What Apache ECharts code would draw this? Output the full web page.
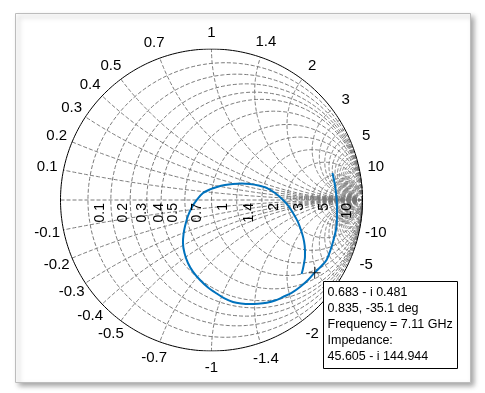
<!DOCTYPE html>
<html><head><meta charset="utf-8">
<script src="https://cdn.jsdelivr.net/npm/echarts@6/dist/echarts.min.js"></script>
<style>html,body{margin:0;padding:0;background:#fff}#c{width:485px;height:393px}</style>
</head><body><div id="c"></div>
<script>
// Smith chart grid values (normalized impedance)
const gridValues = [0.1, 0.2, 0.3, 0.4, 0.5, 0.7, 1, 1.4, 2, 3, 5, 10];
const gridLabels = ['0.1', '0.2', '0.3', '0.4', '0.5', '0.7', '1', '1.4', '2', '3', '5', '10'];
const fineReactance = [3.5, 4, 4.5, 5.5, 6, 6.5, 7, 7.5, 8, 8.5, 9, 9.5, 11, 12, 13, 15, 17, 20, 25, 30];
const fineResistance = [6, 7, 8, 9, 12, 15, 20, 30];
const hatchResistance = [3.2, 3.4, 3.6, 3.8, 4, 4.2, 4.4, 4.6, 4.8, 5.2, 5.4, 5.6, 5.8, 6, 6.5, 7, 7.5, 8, 8.5, 9, 9.5, 11, 12, 13, 14, 16, 18, 20, 25, 30, 40];

// Reflection coefficient trace
const gammaRe = [0.801, 0.815, 0.825, 0.831, 0.831, 0.825, 0.808, 0.788, 0.762, 0.725, 0.683, 0.639, 0.586, 0.533, 0.474, 0.421, 0.366, 0.308, 0.255, 0.195, 0.142, 0.086, 0.034, -0.023, -0.076, -0.123, -0.156, -0.179, -0.189, -0.185, -0.175, -0.156, -0.129, -0.096, -0.056, -0.010, 0.036, 0.089, 0.142, 0.199, 0.255, 0.311, 0.368, 0.421, 0.474, 0.510, 0.540, 0.573, 0.599, 0.613, 0.619, 0.619, 0.613, 0.606, 0.597];
const gammaIm = [0.179, 0.113, 0.046, -0.033, -0.113, -0.192, -0.265, -0.331, -0.397, -0.440, -0.481, -0.530, -0.576, -0.613, -0.642, -0.666, -0.680, -0.687, -0.689, -0.685, -0.675, -0.652, -0.619, -0.579, -0.530, -0.474, -0.417, -0.351, -0.285, -0.225, -0.172, -0.106, -0.046, 0.003, 0.046, 0.070, 0.086, 0.099, 0.106, 0.109, 0.106, 0.096, 0.079, 0.046, 0.000, -0.040, -0.086, -0.146, -0.219, -0.275, -0.331, -0.377, -0.417, -0.454, -0.490];

const markerRe = [0.683];
const markerIm = [-0.481];
const tipLines = ['0.683 - i 0.481', '0.835, -35.1 deg', 'Frequency = 7.11 GHz', 'Impedance:', '45.605 - i 144.944'];

// ---- geometry helpers (Smith chart math) ----
function resistanceCircle(r) {
  const c = r / (1 + r), rad = 1 / (1 + r), pts = [];
  for (let i = 0; i <= 240; i++) {
    const t = i / 240 * 2 * Math.PI;
    pts.push([c + rad * Math.cos(t), rad * Math.sin(t)]);
  }
  return pts;
}
function reactanceArc(x) {
  const s = x < 0 ? -1 : 1, ax = Math.abs(x);
  const rad = 1 / ax;
  const a0 = -Math.PI / 2;
  let a1 = Math.atan2(ax * ax - 1, -2 * ax);
  if (a1 > 0) a1 -= 2 * Math.PI;
  const pts = [];
  const n = 160;
  for (let i = 0; i <= n; i++) {
    const a = a0 + (a1 - a0) * i / n;
    pts.push([1 + rad * Math.cos(a), s * (1 / ax + rad * Math.sin(a))]);
  }
  return pts;
}
function hatchArc(r) {
  const c = r / (1 + r), rad = 1 / (1 + r), pts = [];
  for (let i = 0; i <= 6; i++) {
    const t = 0.035 * i / 6;
    pts.push([c - Math.sqrt(rad * rad - t * t), t]);
  }
  return pts;
}

const gridLines = [];
gridLines.push({ coords: [[-1, 0], [1, 0]] });
gridValues.forEach(v => {
  gridLines.push({ coords: resistanceCircle(v) });
  gridLines.push({ coords: reactanceArc(v) });
  gridLines.push({ coords: reactanceArc(-v) });
});
fineReactance.forEach(v => {
  gridLines.push({ coords: reactanceArc(v) });
  gridLines.push({ coords: reactanceArc(-v) });
});
fineResistance.forEach(v => gridLines.push({ coords: resistanceCircle(v) }));
hatchResistance.forEach(v => gridLines.push({ coords: hatchArc(v) }));

const unitCircle = [];
for (let i = 0; i <= 360; i++) {
  const t = i / 360 * 2 * Math.PI;
  unitCircle.push([Math.cos(t), Math.sin(t)]);
}

// label positions
const outerLabelData = [], outerLabelText = [];
const rho = 1.11;
gridValues.forEach((v, i) => {
  const th = Math.atan2(2 * v, v * v - 1);
  outerLabelData.push([rho * Math.cos(th), rho * Math.sin(th)]);
  outerLabelText.push(gridLabels[i]);
  outerLabelData.push([rho * Math.cos(th), -rho * Math.sin(th)]);
  outerLabelText.push('-' + gridLabels[i]);
});
const innerLabelData = gridValues.map(v => [(v - 1) / (v + 1), 0]);

const curve = gammaRe.map((v, i) => [v, gammaIm[i]]);
const marker = markerRe.map((v, i) => [v, markerIm[i]]);

const chart = echarts.init(document.getElementById('c'), null, { renderer: 'canvas' });
const FONT = '"Liberation Sans", Arial, sans-serif';
chart.setOption({
  backgroundColor: '#ffffff',
  animation: false,
  grid: { left: 60.5, top: 49, width: 302, height: 302 },
  xAxis: { type: 'value', min: -1, max: 1, show: false },
  yAxis: { type: 'value', min: -1, max: 1, show: false },
  graphic: [
    { type: 'rect', z: -10, shape: { x: 15.5, y: 13.5, width: 455, height: 369 },
      style: { fill: '#ffffff', stroke: '#bcbcbc', lineWidth: 1,
        shadowBlur: 5, shadowOffsetX: 3, shadowOffsetY: 3, shadowColor: 'rgba(0,0,0,0.35)' } },
    { type: 'rect', z: 100, zlevel: 1, shape: { x: 323.5, y: 281.5, width: 134, height: 87 },
      style: { fill: '#ffffff', stroke: '#000000', lineWidth: 1 } },
    ...tipLines.map((t, i) => ({ type: 'text', z: 101, zlevel: 1, x: 327.5, y: 292.5 + i * 16,
      style: { text: t, fill: '#000', font: '12.5px ' + FONT, verticalAlign: 'middle', align: 'left' } }))
  ],
  series: [
    { type: 'lines', coordinateSystem: 'cartesian2d', polyline: true, silent: true, z: 1,
      lineStyle: { color: '#7a7a7a', width: 1, type: [4, 2], opacity: 1 },
      data: gridLines },
    { type: 'line', data: unitCircle, showSymbol: false, silent: true, z: 2,
      lineStyle: { color: '#000', width: 1 } },
    { type: 'line', data: curve, smooth: 0.3, showSymbol: false, z: 3,
      lineStyle: { color: '#0072BD', width: 2 } },
    { type: 'scatter', data: marker, z: 4, symbolSize: 12,
      symbol: 'path://M5.5,0h1v5.5h5.5v1h-5.5v5.5h-1v-5.5h-5.5v-1h5.5z',
      itemStyle: { color: '#000' } },
    { type: 'custom', data: outerLabelData, z: 5, silent: true,
      renderItem: (params, api) => {
        const p = api.coord([api.value(0), api.value(1)]);
        return { type: 'text', x: p[0], y: p[1],
          style: { text: outerLabelText[params.dataIndex], fill: '#000', font: '15px ' + FONT,
            align: 'center', verticalAlign: 'middle' } };
      } },
    { type: 'custom', data: innerLabelData, z: 5, silent: true,
      renderItem: (params, api) => {
        const p = api.coord([api.value(0), api.value(1)]);
        return { type: 'text', x: p[0] + 5, y: p[1] + 3, rotation: Math.PI / 2,
          style: { text: gridLabels[params.dataIndex], fill: '#000', font: '14px ' + FONT,
            align: 'right', verticalAlign: 'top' } };
      } }
  ]
});
</script></body></html>
